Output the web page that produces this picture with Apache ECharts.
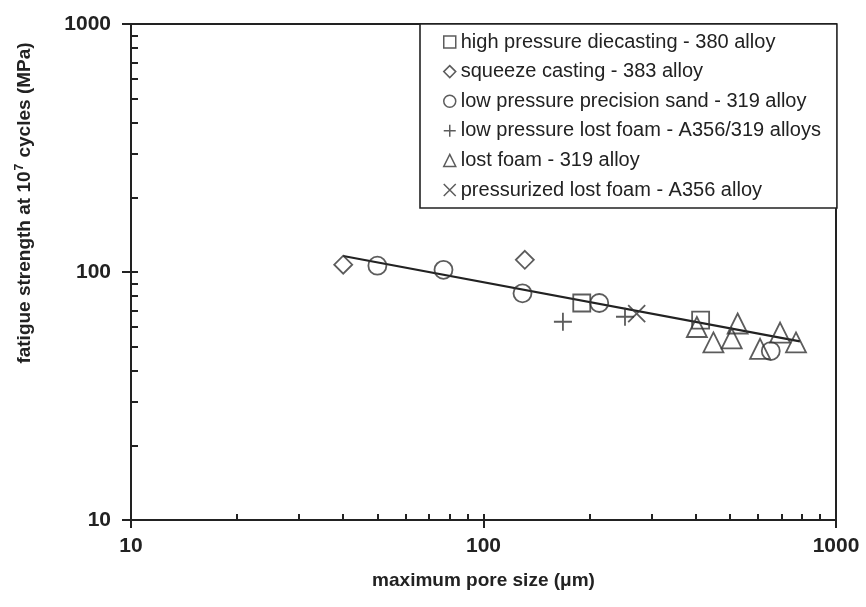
<!DOCTYPE html>
<html>
<head>
<meta charset="utf-8">
<script src="https://cdn.jsdelivr.net/npm/echarts@6/dist/echarts.min.js"></script>
<style>
html,body{margin:0;padding:0;background:#fff;}
#chart{width:866px;height:607px;}
</style>
</head>
<body>
<div id="chart"></div>
<script>
// ---- data ----
const seriesNames = [
  'high pressure diecasting - 380 alloy',
  'squeeze casting - 383 alloy',
  'low pressure precision sand - 319 alloy',
  'low pressure lost foam - A356/319 alloys',
  'lost foam - 319 alloy',
  'pressurized lost foam - A356 alloy'
];
const hpdcX = [190, 413];
const hpdcY = [75, 64];
const squeezeX = [40, 131];
const squeezeY = [107, 112];
const sandX = [50, 77, 129, 213, 653];
const sandY = [106, 102, 82, 75, 48];
const lpLostFoamX = [168, 252];
const lpLostFoamY = [63, 66];
const lostFoamX = [403, 449, 506, 526, 609, 694, 770];
const lostFoamY = [60, 52, 54, 62, 49, 57, 52];
const pressX = [272];
const pressY = [68];
const trendX = [40, 790];
const trendY = [116, 52.5];
const xTickLabels = [10, 100, 1000];
const yTickLabels = [10, 100, 1000];
const xMinorTicks = [20, 30, 40, 50, 60, 70, 80, 90, 200, 300, 400, 500, 600, 700, 800, 900];
const yMinorTicks = [20, 30, 40, 50, 60, 70, 80, 90, 200, 300, 400, 500, 600, 700, 800, 900];

const pts = (xs, ys) => xs.map((x, i) => [x, ys[i]]);

const INK = '#222';
const MARK = '#333';
const FONT = '"Liberation Sans", Arial, Helvetica, sans-serif';
const PLUS = 'path://M0,10L20,10M10,0L10,20';
const CROSS = 'path://M2,2L18,18M18,2L2,18';

const markStyle = {color: 'rgba(0,0,0,0)', borderColor: MARK, borderWidth: 1.8};

function scatter(name, data, symbol, size) {
  return {
    type: 'scatter', name: name, data: data,
    symbol: symbol, symbolSize: size,
    itemStyle: markStyle,
    emphasis: {disabled: true},
    z: 3
  };
}

const chart = echarts.init(document.getElementById('chart'), null, {renderer: 'canvas'});

const fmt = v => String(Math.round(v));

const mainAxisCommon = {
  type: 'log', logBase: 10, min: 10, max: 1000,
  splitLine: {show: false}, minorTick: {show: false}, minorSplitLine: {show: false}
};

chart.setOption({
  animation: false,
  backgroundColor: '#fff',
  grid: {left: 131, right: 30, top: 24, bottom: 87, containLabel: false, outerBoundsMode: 'none'},
  legend: {
    orient: 'vertical',
    left: 420, top: 24,
    padding: [8, 16, 8, 23],
    itemGap: 9.6,
    itemWidth: 12, itemHeight: 12,
    borderColor: INK, borderWidth: 1.6,
    backgroundColor: '#fff',
    textStyle: {fontFamily: FONT, fontSize: 20, color: INK},
    selectedMode: false,
    data: [
      {name: seriesNames[0], icon: 'rect'},
      {name: seriesNames[1], icon: 'diamond'},
      {name: seriesNames[2], icon: 'circle'},
      {name: seriesNames[3], icon: PLUS},
      {name: seriesNames[4], icon: 'triangle'},
      {name: seriesNames[5], icon: CROSS}
    ],
    itemStyle: {color: 'rgba(0,0,0,0)', borderColor: MARK, borderWidth: 1.5}
  },
  xAxis: [
    Object.assign({}, mainAxisCommon, {
      position: 'bottom',
      axisLine: {show: true, onZero: false, lineStyle: {color: INK, width: 2}},
      axisTick: {show: true, inside: false, length: 8, lineStyle: {color: INK, width: 2}, customValues: xTickLabels},
      axisLabel: {show: true, margin: 16, color: INK, fontFamily: FONT, fontWeight: 'bold', fontSize: 21,
                  customValues: xTickLabels, formatter: fmt},
      name: 'maximum pore size (\u03bcm)',
      nameLocation: 'middle', nameGap: 51,
      nameTextStyle: {fontFamily: FONT, fontWeight: 'bold', fontSize: 19, color: INK}
    }),
    Object.assign({}, mainAxisCommon, {
      position: 'bottom',
      axisLine: {show: false, onZero: false},
      axisTick: {show: true, inside: true, length: 6, lineStyle: {color: INK, width: 2},
                 customValues: xTickLabels.concat(xMinorTicks)},
      axisLabel: {show: false}
    }),
    Object.assign({}, mainAxisCommon, {
      position: 'top',
      axisLine: {show: true, onZero: false, lineStyle: {color: INK, width: 2}},
      axisTick: {show: false}, axisLabel: {show: false}
    })
  ],
  yAxis: [
    Object.assign({}, mainAxisCommon, {
      position: 'left',
      axisLine: {show: true, onZero: false, lineStyle: {color: INK, width: 2}},
      axisTick: {show: true, inside: false, length: 9, lineStyle: {color: INK, width: 2}, customValues: yTickLabels},
      axisLabel: {show: true, margin: 20, color: INK, fontFamily: FONT, fontWeight: 'bold', fontSize: 21,
                  customValues: yTickLabels, formatter: fmt},
      name: '{a|fatigue strength at 10}{s|7}{a| cycles (MPa)}',
      nameLocation: 'middle', nameGap: 96,
      nameTextStyle: {
        padding: [0, 0, 0, 138],
        rich: {
          a: {fontFamily: FONT, fontWeight: 'bold', fontSize: 19, color: INK},
          s: {fontFamily: FONT, fontWeight: 'bold', fontSize: 12, color: INK, verticalAlign: 'top', padding: [0, 1, 9, 1]}
        }
      }
    }),
    Object.assign({}, mainAxisCommon, {
      position: 'left',
      axisLine: {show: false, onZero: false},
      axisTick: {show: true, inside: true, length: 7, lineStyle: {color: INK, width: 2},
                 customValues: yTickLabels.concat(yMinorTicks)},
      axisLabel: {show: false}
    }),
    Object.assign({}, mainAxisCommon, {
      position: 'right',
      axisLine: {show: true, onZero: false, lineStyle: {color: INK, width: 2}},
      axisTick: {show: false}, axisLabel: {show: false}
    })
  ],
  series: [
    {
      type: 'line', name: 'trend', data: pts(trendX, trendY),
      symbol: 'none', lineStyle: {color: INK, width: 2.2},
      emphasis: {disabled: true}, z: 2
    },
    scatter(seriesNames[0], pts(hpdcX, hpdcY), 'rect', 17),
    scatter(seriesNames[1], pts(squeezeX, squeezeY), 'diamond', 18),
    scatter(seriesNames[2], pts(sandX, sandY), 'circle', 18),
    scatter(seriesNames[3], pts(lpLostFoamX, lpLostFoamY), PLUS, 18),
    scatter(seriesNames[4], pts(lostFoamX, lostFoamY), 'triangle', 20),
    scatter(seriesNames[5], pts(pressX, pressY), CROSS, 17)
  ]
});
</script>
</body>
</html>
